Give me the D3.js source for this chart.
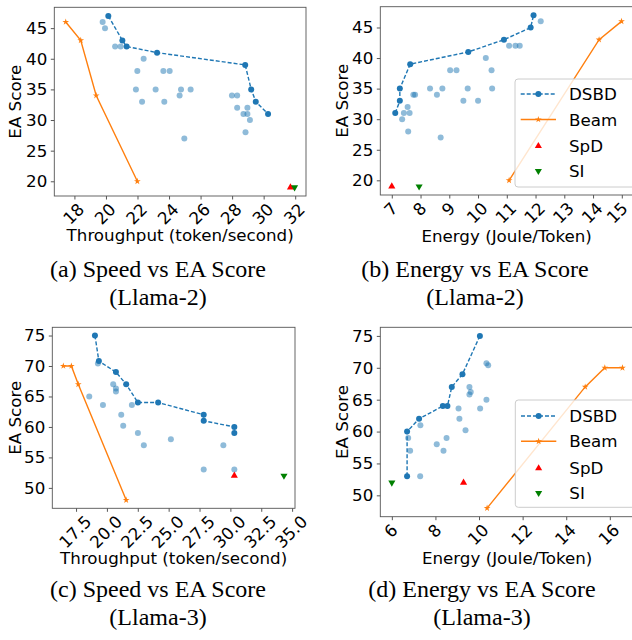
<!DOCTYPE html>
<html><head><meta charset="utf-8">
<script src="https://cdn.jsdelivr.net/npm/d3@7"></script>
<style>body{margin:0;background:#fff} svg{display:block}</style>
</head><body>
<svg id="c" width="632" height="640"></svg>
<script>
// ---------- DATA ----------
// (a) Llama-2 throughput vs EA score
const a_light = [[19.79,46],[19.94,45],[20.58,42],[20.93,42],[22.39,40],[21.99,38],[21.90,35],[22.29,33],[23.15,35],[23.64,38],[24.04,38],[23.70,33],[24.67,34],[24.76,35],[25.37,35],[24.97,27],[27.99,34],[28.32,34],[28.32,32],[28.97,32],[28.72,31],[28.97,31],[29.13,30],[28.85,28]];
const a_dsbd = [[20.15,47],[21.04,43],[21.31,42],[23.24,41],[28.83,39],[29.21,35],[29.50,33],[30.28,31]];
const a_beam = [[17.45,46],[18.40,43],[19.38,34],[21.99,20]];
const a_spd = [[31.70,19]];
const a_si = [[31.96,19]];
// (b) Llama-2 energy vs EA score
const b_light = [[12.18,46],[11.08,42],[11.30,42],[11.45,42],[10.27,40],[9.03,38],[9.25,38],[10.47,38],[8.33,35],[8.76,35],[9.64,35],[10.49,35],[8.57,34],[7.75,34],[7.81,34],[9.49,33],[10.00,33],[7.55,32],[7.62,31],[7.42,31],[7.36,30],[7.57,28],[8.70,27]];
const b_dsbd = [[7.12,31],[7.28,33],[7.28,35],[7.64,39],[9.66,41],[10.90,43],[11.83,45],[11.93,47]];
const b_beam = [[11.08,20],[14.21,43],[14.99,46]];
const b_spd = [[7.00,19]];
const b_si = [[7.95,19]];
// (c) Llama-3 throughput vs EA score
const c_light = [[19.27,70.4],[18.57,65],[19.68,63.6],[20.51,67],[20.73,66.3],[20.73,65.8],[21.16,62],[21.32,60.2],[22.02,63.6],[22.51,59],[22.99,57],[25.18,58],[29.43,57],[27.84,53],[30.32,53]];
const c_dsbd = [[19.03,75],[19.35,70.8],[20.73,69],[21.56,67],[22.51,64],[24.15,64],[27.84,62],[27.84,61],[30.32,60],[30.32,59]];
const c_beam = [[16.47,70],[17.12,70],[17.68,67],[21.56,48]];
const c_spd = [[30.32,52]];
const c_si = [[34.34,52]];
// (d) Llama-3 energy vs EA score
const d_light = [[6.75,59],[6.84,57],[7.30,53],[7.31,61],[8.06,58],[8.37,57],[8.51,59],[9.06,63.6],[9.10,62],[9.38,60.2],[9.56,67],[9.62,66.2],[9.56,65.8],[10.05,63.6],[10.34,70.7],[10.42,70.4],[10.34,65]];
const d_dsbd = [[6.70,53],[6.70,60],[7.25,62],[8.34,64],[8.55,64],[8.75,67],[9.24,69],[10.04,75]];
const d_beam = [[10.37,48],[14.87,67],[15.77,70],[16.58,70]];
const d_spd = [[9.29,52]];
const d_si = [[6.00,52]];

// tick values
const a_xticks = [18,20,22,24,26,28,30,32];
const b_xticks = [7,8,9,10,11,12,13,14,15];
const c_xticks = [17.5,20.0,22.5,25.0,27.5,30.0,32.5,35.0];
const d_xticks = [6,8,10,12,14,16];
const l2_yticks = [20,25,30,35,40,45];
const l3_yticks = [50,55,60,65,70,75];

const seriesNames = ["DSBD","Beam","SpD","SI"];
const xLabelSpeed = "Throughput (token/second)";
const xLabelEnergy = "Energy (Joule/Token)";
const yLabel = "EA Score";

// ---------- STYLE / LAYOUT ----------
const BLUE = "#1f77b4", ORANGE = "#ff7f0e", RED = "#ff0000", GREEN = "#008000";
const FS = 16.7, FONT = "DejaVu Sans, sans-serif";
const W = 632;
const svg = d3.select("#c");

const panels = [
  {light:a_light, dsbd:a_dsbd, beam:a_beam, spd:a_spd, si:a_si, xt:a_xticks, yt:l2_yticks, fmt:d3.format("d"),
   xlab:xLabelSpeed, rect:{l:54.3,r:306,t:7.3,b:196}, ylabX:20.7, xlabY:240.7, legend:null,
   cap:["(a) Speed vs EA Score","(Llama-2)"], capX:158, capY:277},
  {light:b_light, dsbd:b_dsbd, beam:b_beam, spd:b_spd, si:b_si, xt:b_xticks, yt:l2_yticks, fmt:d3.format("d"),
   xlab:xLabelEnergy, rect:{l:380.3,r:633,t:6.7,b:195}, ylabX:347.7, xlabY:242.3, legend:{x:515,y:79,w:125,h:108,rows:[94,119.5,146,171]},
   cap:["(b) Energy vs EA Score","(Llama-2)"], capX:475, capY:277},
  {light:c_light, dsbd:c_dsbd, beam:c_beam, spd:c_spd, si:c_si, xt:c_xticks, yt:l3_yticks, fmt:d3.format(".1f"),
   xlab:xLabelSpeed, rect:{l:52.3,r:295,t:327.3,b:508.3}, ylabX:20.7, xlabY:564.3, legend:null,
   cap:["(c) Speed vs EA Score","(Llama-3)"], capX:158, capY:597},
  {light:d_light, dsbd:d_dsbd, beam:d_beam, spd:d_spd, si:d_si, xt:d_xticks, yt:l3_yticks, fmt:d3.format("d"),
   xlab:xLabelEnergy, rect:{l:380.3,r:634,t:327.3,b:516.7}, ylabX:347.7, xlabY:564.3, legend:{x:515.3,y:400,w:125,h:107.3,rows:[416,441.3,468.3,493]},
   cap:["(d) Energy vs EA Score","(Llama-3)"], capX:482, capY:597}
];

function padExt(ext){ const r = ext[1]-ext[0]; return [ext[0]-0.05*r, ext[1]+0.05*r]; }

const starSym = d3.symbol().type(d3.symbolStar).size(14);
const triUp = d3.symbol().type(d3.symbolTriangle).size(22);
const triDown = d3.symbol().type(d3.symbolTriangle).size(22);

panels.forEach(p => {
  const {l,r,t,b} = p.rect;
  const all = [...p.light, ...p.dsbd, ...p.beam, ...p.spd, ...p.si];
  const x = d3.scaleLinear().domain(padExt(d3.extent(all, d=>d[0]))).range([l,r]);
  const y = d3.scaleLinear().domain(padExt(d3.extent(all, d=>d[1]))).range([b,t]);
  const g = svg.append("g");

  // light scatter
  g.append("g").selectAll("circle").data(p.light).join("circle")
    .attr("cx", d=>x(d[0])).attr("cy", d=>y(d[1])).attr("r", 3)
    .attr("fill", BLUE).attr("fill-opacity", 0.5);

  // DSBD frontier
  const line = d3.line().x(d=>x(d[0])).y(d=>y(d[1]));
  g.append("path").datum(p.dsbd).attr("d", line).attr("fill","none")
    .attr("stroke", BLUE).attr("stroke-width", 1.4).attr("stroke-dasharray","4,2");
  g.append("g").selectAll("circle").data(p.dsbd).join("circle")
    .attr("cx", d=>x(d[0])).attr("cy", d=>y(d[1])).attr("r", 3).attr("fill", BLUE);

  // Beam
  g.append("path").datum(p.beam).attr("d", line).attr("fill","none")
    .attr("stroke", ORANGE).attr("stroke-width", 1.4);
  g.append("g").selectAll("path").data(p.beam).join("path")
    .attr("d", starSym).attr("transform", d=>`translate(${x(d[0])},${y(d[1])})`).attr("fill", ORANGE);

  // SpD, SI
  g.append("g").selectAll("path").data(p.spd).join("path")
    .attr("d", triUp).attr("transform", d=>`translate(${x(d[0])},${y(d[1])})`).attr("fill", RED);
  g.append("g").selectAll("path").data(p.si).join("path")
    .attr("d", triDown).attr("transform", d=>`translate(${x(d[0])},${y(d[1])}) rotate(180)`).attr("fill", GREEN);

  // spines
  g.append("rect").attr("x", l).attr("y", t).attr("width", r-l).attr("height", b-t)
    .attr("fill","none").attr("stroke","#555").attr("stroke-width",0.9);

  // y axis
  const ya = g.append("g").attr("transform", `translate(${l},0)`)
    .call(d3.axisLeft(y).tickValues(p.yt).tickSize(3.5).tickPadding(3.5).tickFormat(d3.format("d")));
  ya.select(".domain").remove();
  ya.selectAll("line").attr("stroke","#555");
  ya.selectAll("text").attr("font-family", FONT).attr("font-size", FS).attr("fill","#000");

  // x axis with 45-degree labels
  const xa = g.append("g").attr("transform", `translate(0,${b})`)
    .call(d3.axisBottom(x).tickValues(p.xt).tickSize(3.5).tickPadding(3.5).tickFormat(p.fmt));
  xa.select(".domain").remove();
  xa.selectAll("line").attr("stroke","#555");
  xa.selectAll("text").attr("font-family", FONT).attr("font-size", FS).attr("fill","#000")
    .attr("y", null).attr("dy", null).attr("text-anchor","middle").attr("dominant-baseline","central")
    .each(function(){
      const w = this.getComputedTextLength();
      const h = FS*0.73;
      const cy = 6.0 + (w + h)*0.7071/2;
      const sel = d3.select(this);
      sel.attr("transform", `translate(-1.5,${cy}) rotate(-45)`);
      // keep the label inside the picture
      const bb = this.getBoundingClientRect();
      if (bb.right > W - 0.5) {
        const dx = bb.right - (W - 0.5);
        sel.attr("transform", `translate(${-1.5-dx},${cy}) rotate(-45)`);
      }
    });

  // axis labels
  g.append("text").attr("x", (l+r)/2).attr("y", p.xlabY).attr("text-anchor","middle")
    .attr("font-family", FONT).attr("font-size", FS).text(p.xlab);
  g.append("text").attr("transform", `translate(${p.ylabX},${(t+b)/2}) rotate(-90)`).attr("text-anchor","middle")
    .attr("font-family", FONT).attr("font-size", FS).text(yLabel);

  // legend
  if (p.legend) {
    const L = p.legend;
    const lg = g.append("g");
    lg.append("rect").attr("x", L.x).attr("y", L.y).attr("width", L.w).attr("height", L.h)
      .attr("rx", 3).attr("fill","#fff").attr("fill-opacity",0.8).attr("stroke","#cccccc").attr("stroke-width",1);
    const hx0 = L.x + 5.7, hx1 = L.x + 41, hxm = (hx0+hx1)/2, tx = L.x + 54;
    lg.append("line").attr("x1",hx0).attr("x2",hx1).attr("y1",L.rows[0]).attr("y2",L.rows[0])
      .attr("stroke",BLUE).attr("stroke-width",1.4).attr("stroke-dasharray","4,2");
    lg.append("circle").attr("cx",hxm).attr("cy",L.rows[0]).attr("r",3).attr("fill",BLUE);
    lg.append("line").attr("x1",hx0).attr("x2",hx1).attr("y1",L.rows[1]).attr("y2",L.rows[1])
      .attr("stroke",ORANGE).attr("stroke-width",1.4);
    lg.append("path").attr("d",starSym).attr("transform",`translate(${hxm},${L.rows[1]})`).attr("fill",ORANGE);
    lg.append("path").attr("d",triUp).attr("transform",`translate(${hxm},${L.rows[2]})`).attr("fill",RED);
    lg.append("path").attr("d",triDown).attr("transform",`translate(${hxm},${L.rows[3]}) rotate(180)`).attr("fill",GREEN);
    seriesNames.forEach((n,i) => {
      lg.append("text").attr("x", tx).attr("y", L.rows[i]).attr("dy","0.36em")
        .attr("font-family", FONT).attr("font-size", FS).text(n);
    });
  }

  // caption
  p.cap.forEach((c,i) => {
    svg.append("text").attr("x", p.capX).attr("y", p.capY + i*28).attr("text-anchor","middle")
      .attr("font-family","Liberation Serif, Times New Roman, serif").attr("font-size", 24).text(c);
  });
});
</script>
</body></html>
